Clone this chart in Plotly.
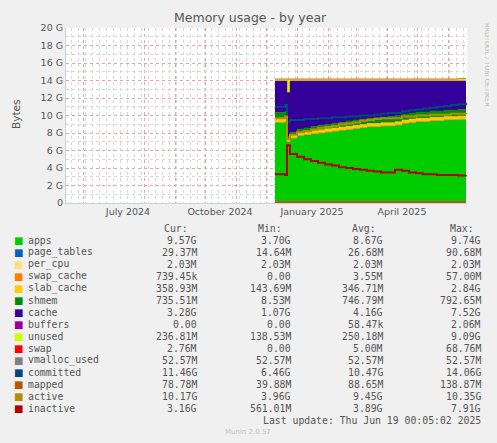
import plotly.graph_objects as go

dates = ["2024-12-10","2024-12-20","2024-12-22","2024-12-25","2025-01-01","2025-01-08","2025-01-15","2025-01-22","2025-01-29","2025-02-05","2025-02-12","2025-02-19","2025-02-26","2025-03-05","2025-03-12","2025-03-19","2025-03-26","2025-04-02","2025-04-09","2025-04-16","2025-04-23","2025-04-30","2025-05-07","2025-05-14","2025-05-21","2025-05-28","2025-06-04","2025-06-11","2025-06-19"]
apps = [9.2,9.3,7.0,7.4,7.7,7.8,7.9,8.0,8.1,8.2,8.3,8.4,8.5,8.6,8.7,8.7,8.8,8.8,8.9,9.1,9.2,9.3,9.3,9.4,9.4,9.5,9.5,9.55,9.57]
page_tables = [0.03]*29
per_cpu = [0.002]*29
swap_cache = [0.001]*29
slab_cache = [0.4,0.4,0.3,0.35,0.35,0.35,0.35,0.35,0.35,0.35,0.35,0.35,0.35,0.35,0.35,0.35,0.35,0.35,0.35,0.35,0.36,0.36,0.36,0.36,0.36,0.36,0.36,0.36,0.36]
shmem = [0.7,0.7,0.3,0.3,0.35,0.4,0.45,0.5,0.5,0.55,0.55,0.6,0.6,0.6,0.6,0.65,0.65,0.7,0.7,0.7,0.7,0.7,0.72,0.72,0.72,0.73,0.73,0.74,0.74]
unused = [0.2,0.2,1.5,0.2,0.2,0.2,0.2,0.2,0.2,0.2,0.2,0.2,0.2,0.2,0.2,0.2,0.2,0.2,0.2,0.2,0.2,0.2,0.2,0.2,0.2,0.2,0.2,0.24,0.24]
total_used = 13.95
cache = [round(total_used - a - b - c - d - e - f - (u - 0.2 if u > 0.3 else 0), 3)
         for a, b, c, d, e, f, u in zip(apps, page_tables, per_cpu, swap_cache, slab_cache, shmem, unused)]
buffers = [0.0]*29
swap = [0.03]*29
vmalloc_used = [0.053]*29
committed = [11.0,11.2,9.3,9.5,9.5,9.6,9.6,9.7,9.7,9.8,9.8,9.9,9.9,10.0,10.0,10.1,10.2,10.3,10.3,10.5,10.6,10.7,10.8,10.9,11.0,11.1,11.2,11.3,11.46]
mapped = [0.08]*29
active = [9.7,9.9,7.3,7.8,8.1,8.2,8.4,8.6,8.7,8.8,9.0,9.1,9.2,9.4,9.5,9.6,9.7,9.7,9.7,9.9,9.9,10.0,10.0,10.1,10.1,10.1,10.2,10.2,10.17]
inactive = [3.3,3.2,6.6,5.6,5.3,5.0,4.8,4.6,4.4,4.3,4.1,4.0,3.9,3.8,3.7,3.6,3.5,3.5,3.8,3.7,3.5,3.4,3.3,3.3,3.2,3.2,3.2,3.15,3.16]

names = ["apps","page_tables","per_cpu","swap_cache","slab_cache","shmem","cache","buffers","unused","swap","vmalloc_used","committed","mapped","active","inactive"]
colors = ["#00CC00","#0066B3","#FFE080","#FF8000","#FFCC00","#008F00","#330099","#990099","#CCFF00","#FF0000","#808080","#00487D","#B35A00","#B38F00","#B30000"]
cur = ["9.57G","29.37M","2.03M","739.45k","358.93M","735.51M","3.28G","0.00","236.81M","2.76M","52.57M","11.46G","78.78M","10.17G","3.16G"]
mins = ["3.70G","14.64M","2.03M","0.00","143.69M","8.53M","1.07G","0.00","138.53M","0.00","52.57M","6.46G","39.88M","3.96G","561.01M"]
avgs = ["8.67G","26.68M","2.03M","3.55M","346.71M","746.79M","4.16G","58.47k","250.18M","5.00M","52.57M","10.47G","88.65M","9.45G","3.89G"]
maxs = ["9.74G","90.68M","2.03M","57.00M","2.84G","792.65M","7.52G","2.06M","9.09G","68.76M","52.57M","14.06G","138.87M","10.35G","7.91G"]

G = 1e9
stack = [apps, page_tables, per_cpu, swap_cache, slab_cache, shmem, cache, buffers, unused, swap]
lines = [vmalloc_used, committed, mapped, active, inactive]

fig = go.Figure()
for i, s in enumerate(stack):
    fig.add_trace(go.Scatter(x=dates, y=[v*G for v in s], stackgroup="m", mode="lines",
                             line=dict(width=0.5, color=colors[i], shape="hv"),
                             fillcolor=colors[i], showlegend=False, hoverinfo="skip"))
for j, s in enumerate(lines):
    fig.add_trace(go.Scatter(x=dates, y=[v*G for v in s], mode="lines",
                             line=dict(width=2, color=colors[10+j], shape="hv"),
                             showlegend=False, hoverinfo="skip"))
fig.add_trace(go.Scatter(x=["2024-05-15","2025-06-20"], y=[0,0], xaxis="x2", mode="lines",
                         line=dict(width=0), showlegend=False, hoverinfo="skip"))

O = 8  # page body offset
L, R, T, B = 66 - O, 467 - O, 28 - O, 203 - O
W, H = 497 - O, 443 - O
def px(x): return (x - O - L) / (R - L)
def py(y): return (B - (y - O)) / (B - T)

fig.update_layout(
    width=W, height=H, margin=dict(l=L, r=W-R, t=T, b=H-B, autoexpand=False),
    paper_bgcolor="#F0F0F0", plot_bgcolor="#FFFFFF",
    font=dict(family="DejaVu Sans", size=10, color="#555555"),
    xaxis=dict(range=["2024-05-15","2025-06-20"], type="date", automargin=False,
               tickvals=["2024-07-16","2024-10-16","2025-01-16","2025-04-16"],
               ticktext=["July 2024","October 2024","January 2025","April 2025"],
               showgrid=False, ticks="", showline=True, linecolor="#C8D0F0",
               tickfont=dict(size=9.5, color="#555555"),
               minor=dict(dtick="M1", tick0="2024-06-01", showgrid=True, gridcolor="#F0A0A0", griddash="dot", gridwidth=1)),
    xaxis2=dict(range=["2024-05-15","2025-06-20"], type="date", overlaying="x", showticklabels=False,
                dtick=7*86400000, tick0="2024-05-06", showgrid=True, gridcolor="#D8D8D8", griddash="dot",
                layer="below traces"),
    yaxis=dict(range=[0, 20*G], tickvals=[k*2*G for k in range(11)], automargin=False,
               ticktext=["0"]+[f"{2*k} G" for k in range(1,11)],
               showgrid=True, gridcolor="#F0A0A0", griddash="dot", ticks="", showline=True, linecolor="#C8D0F0",
               tickfont=dict(size=9.5, color="#555555"), zeroline=False,
               minor=dict(dtick=G, showgrid=True, gridcolor="#D8D8D8", griddash="dot")),
)

ann = []
ann.append(dict(text="Memory usage - by year", x=px(250), y=py(18), xanchor="center", yanchor="middle",
                showarrow=False, font=dict(size=12.5, color="#555555")))
ann.append(dict(text="Bytes", x=px(16), y=py(115), textangle=-90, xanchor="center", yanchor="middle",
                showarrow=False, font=dict(size=10.5, color="#555555")))
ann.append(dict(text="RRDTOOL / TOBI OETIKER", x=px(487), y=py(65), textangle=90, xanchor="center", yanchor="middle",
                showarrow=False, font=dict(size=6.5, color="#BBBBBB")))
mono = dict(family="DejaVu Sans Mono", size=9.8, color="#555555")
for hdr, xr in [("Cur:",190),("Min:",284),("Avg:",378),("Max:",476)]:
    ann.append(dict(text=hdr, x=px(xr), y=py(228), xanchor="right", yanchor="middle", showarrow=False, font=mono))
for i, n in enumerate(names):
    yy = 240 + 12*i
    ann.append(dict(text="■", x=px(12), y=py(yy), xanchor="left", yanchor="middle", showarrow=False,
                    font=dict(family="DejaVu Sans", size=10, color=colors[i])))
    ann.append(dict(text=n, x=px(26), y=py(yy), xanchor="left", yanchor="middle", showarrow=False, font=mono))
    for col, xr in [(cur,199),(mins,293),(avgs,385),(maxs,483)]:
        ann.append(dict(text=col[i], x=px(xr), y=py(yy), xanchor="right", yanchor="middle", showarrow=False, font=mono))
ann.append(dict(text="Last update: Thu Jun 19 00:05:02 2025", x=px(483), y=py(420), xanchor="right", yanchor="middle",
                showarrow=False, font=mono))
ann.append(dict(text="Munin 2.0.57", x=px(248), y=py(432), xanchor="center", yanchor="middle",
                showarrow=False, font=dict(size=7, color="#C0C0C0")))
for a in ann:
    a["xref"] = "paper"; a["yref"] = "paper"
fig.update_layout(annotations=ann)
fig.write_html("out.html", post_script="document.body.style.background='#F0F0F0';")
